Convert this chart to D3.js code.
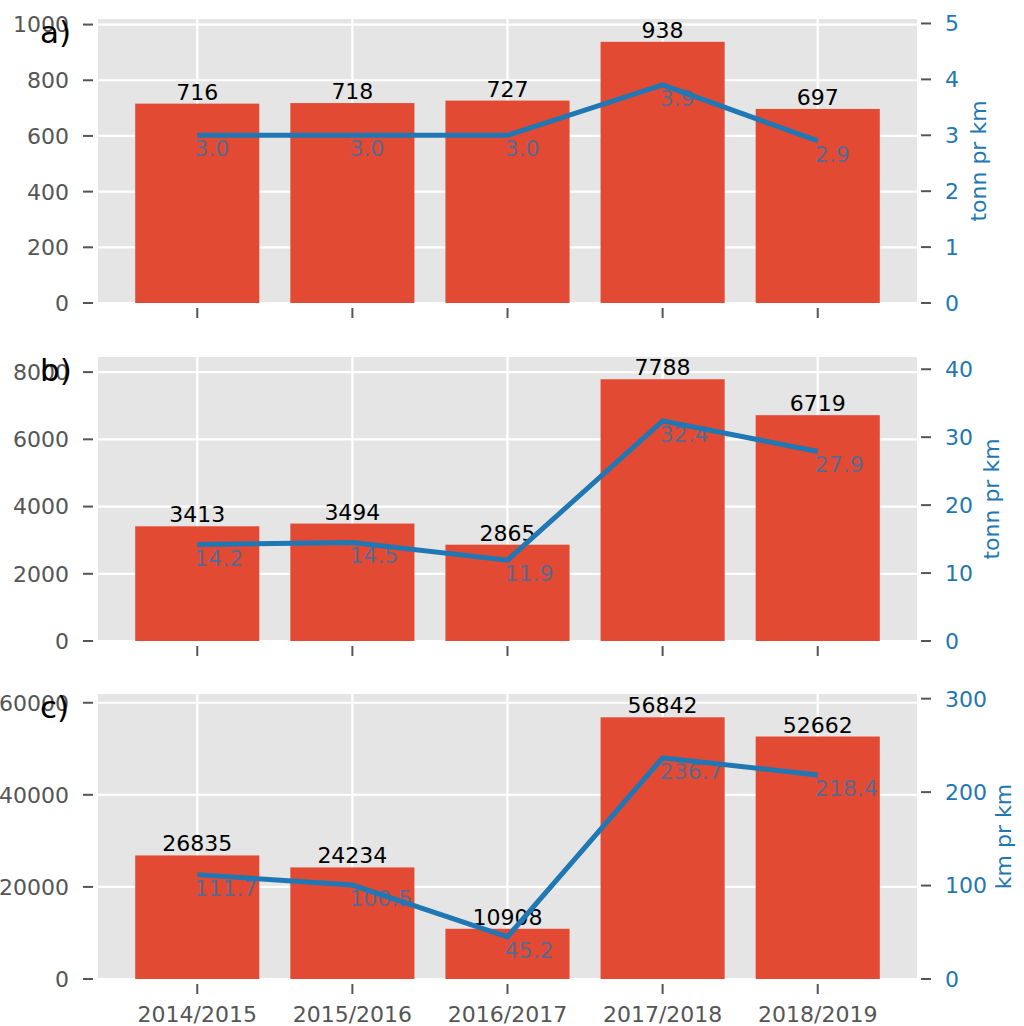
<!DOCTYPE html>
<html><head><meta charset="utf-8">
<script src="https://cdn.jsdelivr.net/npm/d3@7"></script>
<style>body{margin:0;background:#fff}svg{display:block;font-family:"DejaVu Sans",sans-serif}</style>
</head><body><svg id="chart" width="1024" height="1026"></svg>
<script>
const categories = ["2014/2015","2015/2016","2016/2017","2017/2018","2018/2019"];
const totalsA = [716,718,727,938,697];
const perKmA = [3.0,3.0,3.0,3.9,2.9];
const totalsB = [3413,3494,2865,7788,6719];
const perKmB = [14.2,14.5,11.9,32.4,27.9];
const totalsC = [26835,24234,10908,56842,52662];
const perKmC = [111.7,100.5,45.2,236.7,218.4];
const leftTicksA = [0,200,400,600,800,1000];
const leftTicksB = [0,2000,4000,6000,8000];
const leftTicksC = [0,20000,40000,60000];
const rightTicksA = [0,1,2,3,4,5];
const rightTicksB = [0,10,20,30,40];
const rightTicksC = [0,100,200,300];
const panelLabels = ["a)","b)","c)"];
const rightLabels = ["tonn pr km","tonn pr km","km pr km"];

const panels = [
  {totals: totalsA, perKm: perKmA, lt: leftTicksA, rt: rightTicksA, lmax: 1020, rmax: 5.08, top: 19, h: 284, rlx: 986},
  {totals: totalsB, perKm: perKmB, lt: leftTicksB, rt: rightTicksB, lmax: 8450, rmax: 41.8, top: 357, h: 284, rlx: 999},
  {totals: totalsC, perKm: perKmC, lt: leftTicksC, rt: rightTicksC, lmax: 61900, rmax: 305, top: 694, h: 285, rlx: 1011}
];

const svg = d3.select("#chart");
const L = 98, R = 917;
const FS = 22;
const x = d3.scaleLinear().domain([-0.64, 4.64]).range([L, R]);
const barW = x(0.4) - x(-0.4);
const RED = "#E24A33", BLUE = "#1f77b4", GREY = "#555555";

panels.forEach((p, pi) => {
  const bottom = p.top + p.h;
  const yL = d3.scaleLinear().domain([0, p.lmax]).range([bottom, p.top]);
  const yR = d3.scaleLinear().domain([0, p.rmax]).range([bottom, p.top]);
  const g = svg.append("g");
  g.append("rect").attr("x", L).attr("y", p.top).attr("width", R - L).attr("height", p.h).attr("fill", "#E5E5E5");
  g.selectAll(".hg").data(p.lt).join("line")
    .attr("x1", L).attr("x2", R).attr("y1", d => yL(d)).attr("y2", d => yL(d))
    .attr("stroke", "#fff").attr("stroke-width", 2.2);
  g.selectAll(".vg").data(categories).join("line")
    .attr("x1", (d,i) => x(i)).attr("x2", (d,i) => x(i)).attr("y1", p.top).attr("y2", bottom)
    .attr("stroke", "#fff").attr("stroke-width", 2.2);
  g.selectAll(".bar").data(p.totals).join("rect")
    .attr("x", (d,i) => x(i) - barW/2).attr("width", barW)
    .attr("y", d => yL(d)).attr("height", d => bottom - yL(d)).attr("fill", RED);
  g.selectAll(".bl").data(p.totals).join("text")
    .attr("x", (d,i) => x(i)).attr("y", d => yL(d) - 4)
    .attr("text-anchor", "middle").attr("font-size", FS).attr("fill", "#000")
    .text(d => d);
  const line = d3.line().x((d,i) => x(i)).y(d => yR(d));
  g.append("path").datum(p.perKm).attr("d", line).attr("fill", "none")
    .attr("stroke", BLUE).attr("stroke-width", 5).attr("stroke-linejoin", "miter");
  g.selectAll(".ll").data(p.perKm).join("text")
    .attr("x", (d,i) => x(i) - 3).attr("y", d => yR(d) + 21)
    .attr("font-size", FS).attr("fill", BLUE).attr("fill-opacity", 0.72)
    .text(d => d.toFixed(1));
  g.selectAll(".lt").data(p.lt).join("line")
    .attr("x1", 83).attr("x2", 93).attr("y1", d => yL(d)).attr("y2", d => yL(d))
    .attr("stroke", GREY).attr("stroke-width", 2);
  g.selectAll(".ltl").data(p.lt).join("text")
    .attr("x", 69).attr("y", d => yL(d)).attr("dy", "0.36em")
    .attr("text-anchor", "end").attr("font-size", FS).attr("fill", GREY)
    .text(d => d);
  g.selectAll(".rt").data(p.rt).join("line")
    .attr("x1", 921).attr("x2", 931).attr("y1", d => yR(d)).attr("y2", d => yR(d))
    .attr("stroke", GREY).attr("stroke-width", 2);
  g.selectAll(".rtl").data(p.rt).join("text")
    .attr("x", 945).attr("y", d => yR(d)).attr("dy", "0.36em")
    .attr("font-size", FS).attr("fill", BLUE)
    .text(d => d);
  g.append("text").attr("transform", `translate(${p.rlx},${p.top + p.h/2}) rotate(-90)`)
    .attr("text-anchor", "middle").attr("font-size", 22).attr("fill", BLUE)
    .text(rightLabels[pi]);
  g.selectAll(".xt").data(categories).join("line")
    .attr("x1", (d,i) => x(i)).attr("x2", (d,i) => x(i)).attr("y1", bottom + 5).attr("y2", bottom + 15)
    .attr("stroke", GREY).attr("stroke-width", 2);
  if (pi === 2) {
    g.selectAll(".xtl").data(categories).join("text")
      .attr("x", (d,i) => x(i)).attr("y", bottom + 43)
      .attr("text-anchor", "middle").attr("font-size", FS).attr("fill", GREY)
      .text(d => d);
  }
  g.append("text").attr("x", 40).attr("y", p.top + 24)
    .attr("font-size", 31).attr("fill", "#000").text(panelLabels[pi]);
});
</script></body></html>
